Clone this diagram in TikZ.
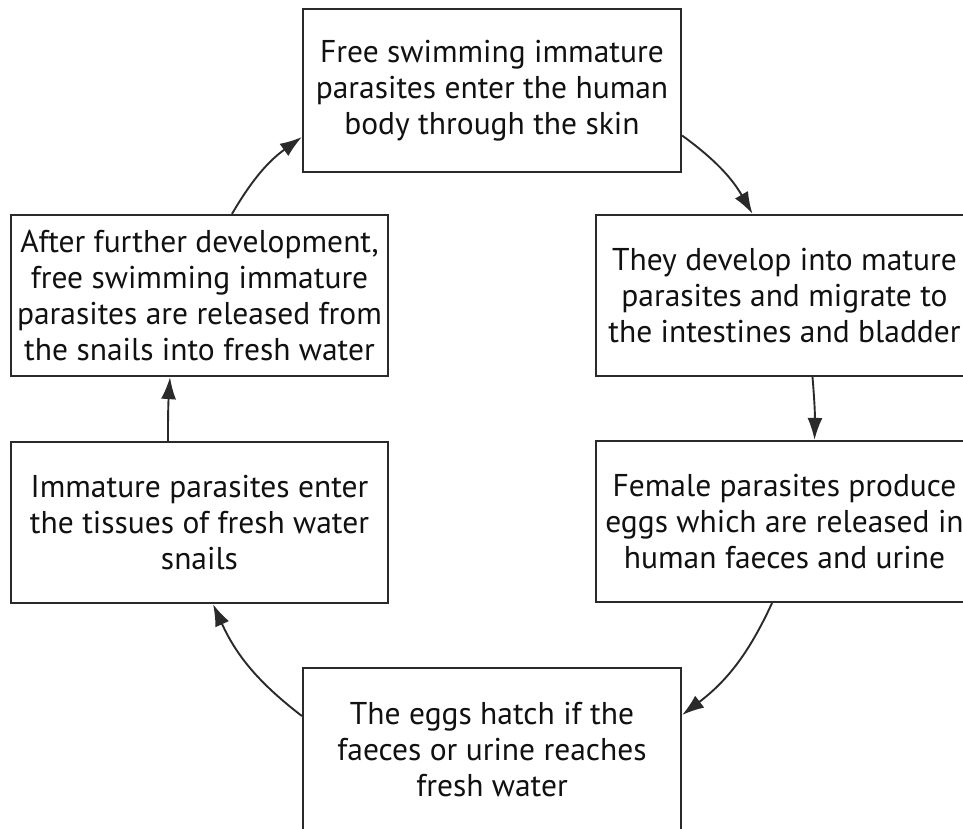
\documentclass[tikz,border=0pt]{standalone}
\usepackage{fontspec}
\setmainfont{PT Sans}
\usetikzlibrary{arrows.meta,calc}
\definecolor{linec}{HTML}{2A2A2A}
\definecolor{textc}{HTML}{111111}
\tikzset{
  stagebox/.style={draw=linec, line width=2.2pt, fill=white, inner sep=0pt,
    align=center, text=textc, font=\fontsize{31.5}{36}\selectfont},
  cyclearrow/.style={draw=linec, line width=1.9pt,
    -{Latex[length=22pt,width=15pt]}}
}
\begin{document}
\begin{tikzpicture}[x=1pt,y=-1pt]
\clip (0,0) rectangle (963,828);
\fill[white] (0,0) rectangle (963,828);
\node[stagebox, minimum width=378pt, minimum height=163pt] (top) at (492,90.5)
  {Free swimming immature\\parasites enter the human\\body through the skin};
\node[stagebox, minimum width=377pt, minimum height=161pt] (rt) at (784.5,295.5)
  {They develop into mature\\parasites and migrate to\\the intestines and bladder};
\node[stagebox, minimum width=377pt, minimum height=161pt] (rb) at (784.5,521.5)
  {Female parasites produce\\eggs which are released in\\human faeces and urine};
\node[stagebox, minimum width=378pt, minimum height=163pt] (bot) at (492,749.5)
  {The eggs hatch if the\\faeces or urine reaches\\fresh water};
\node[stagebox, minimum width=377pt, minimum height=161pt] (lb) at (199.5,522.5)
  {Immature parasites enter\\the tissues of fresh water\\snails};
\node[stagebox, minimum width=377pt, minimum height=161pt] (lt) at (199.5,295.5)
  {After further development,\\free swimming immature\\parasites are released from\\the snails into fresh water};
\draw[cyclearrow] ([yshift=-45pt]top.east) to[bend left=12] ([xshift=-32pt]rt.north);
\draw[cyclearrow] ([xshift=28pt]rt.south) to[bend left=3] ([xshift=30pt]rb.north);
\draw[cyclearrow] ([xshift=-12.5pt]rb.south) to[bend left=14] ([yshift=34.5pt]bot.east);
\draw[cyclearrow] ([yshift=33.5pt]bot.west) to[bend left=14] ([xshift=13.5pt]lb.south);
\draw[cyclearrow] ([xshift=-31.5pt]lb.north) to[bend left=2] ([xshift=-29.5pt]lt.south);
\draw[cyclearrow] ([xshift=32.5pt]lt.north) to[bend left=12] ([yshift=-46.5pt]top.west);
\end{tikzpicture}
\end{document}
